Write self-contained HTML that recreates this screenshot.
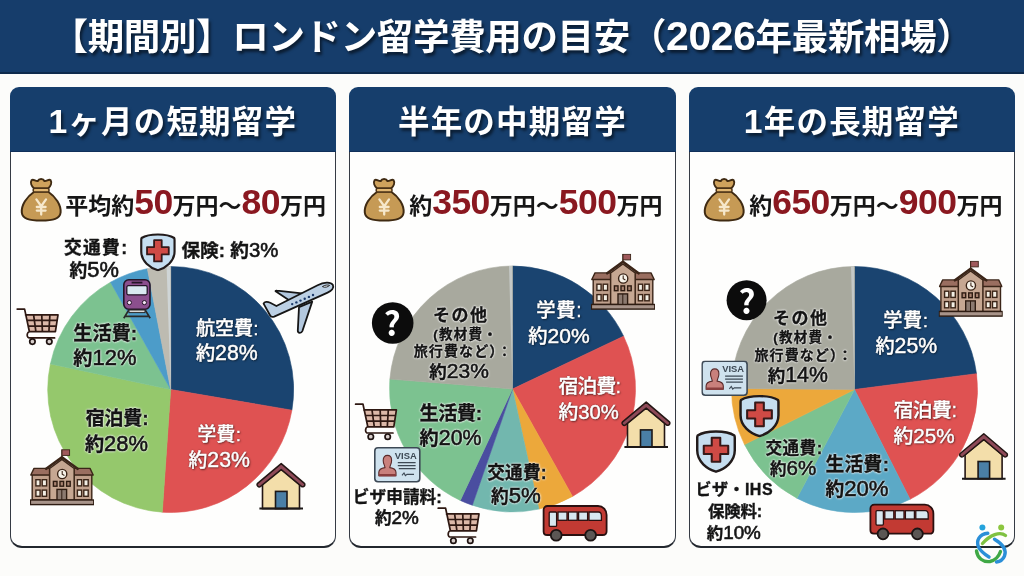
<!DOCTYPE html>
<html lang="ja"><head><meta charset="utf-8"><title>【期間別】ロンドン留学費用の目安（2026年最新相場）</title>
<style>
*{margin:0;padding:0;box-sizing:border-box}
html,body{width:1024px;height:576px;overflow:hidden}
body{position:relative;background:#fcfcfa;font-family:"Liberation Sans","Noto Sans CJK JP",sans-serif;font-weight:700;color:#161616}
.hdr{position:absolute;left:0;top:0;width:1024px;height:74px;background:#163d6b;border-bottom:2px solid #0e2a4c}
.ttl{position:absolute;left:0;top:18px;width:1024px;text-align:center;font-size:36.5px;line-height:40px;letter-spacing:-0.35px;color:#fff;text-shadow:2px 3px 3px rgba(0,0,0,.55)}
.card{position:absolute;top:87px;width:326.6px;height:461px}
.card .ch{position:absolute;left:0;top:0;right:0;height:65px;background:#163e6c;border-radius:9px 9px 0 0;border-bottom:1.5px solid #10305a}
.card .cb{position:absolute;left:0;top:65px;right:0;bottom:0;background:#fefefd;border-style:solid;border-width:0 1.5px 2.2px 1.5px;border-color:#353b44 #353b44 #22272e #353b44;border-radius:0 0 12px 12px}
.ct{position:absolute;left:0;right:0;top:17px;text-align:center;font-size:31.5px;letter-spacing:1.2px;line-height:36px;color:#fff;text-shadow:2px 3px 3px rgba(0,0,0,.55)}
.dg{font-size:1.12em;line-height:0}
.d1{font-size:1.07em;line-height:0}
.n{font-weight:400}
.k .n{-webkit-text-stroke:0.6px #141414}
.w .n{-webkit-text-stroke:0.45px #fff}
svg.ov{position:absolute;left:0;top:0}
.t{position:absolute;white-space:nowrap;line-height:1}
.pr{position:absolute;white-space:nowrap;font-size:23px;line-height:1;color:#161616}
.pr b{font-size:35.5px;letter-spacing:-0.55px;color:#8a1820}
.k{color:#141414;-webkit-text-stroke:0.35px #141414;text-shadow:0 0 2px #fff,0 0 2px #fff,0 0 3px rgba(255,255,255,.8)}
.w{color:#fff;font-weight:500;-webkit-text-stroke:0.35px #fff;text-shadow:0 0 1.5px rgba(0,0,0,.7),1px 1px 2px rgba(0,0,0,.5)}
</style></head><body>
<div class="hdr"></div>
<div class="ttl">【期間別】ロンドン留学費用の目安（<span class="dg">2026</span>年最新相場）</div>
<div class="card" style="left:9.5px"><div class="cb"></div><div class="ch"></div><div class="ct"><span class="d1">1</span>ヶ月の短期留学</div></div>
<div class="card" style="left:349.1px"><div class="cb"></div><div class="ch"></div><div class="ct">半年の中期留学</div></div>
<div class="card" style="left:688.6px"><div class="cb"></div><div class="ch"></div><div class="ct"><span class="d1">1</span>年の長期留学</div></div>
<svg class="ov" width="1024" height="576" viewBox="0 0 1024 576">
<defs>
<symbol id="bag" viewBox="0 0 48 52">
<path d="M16.5 19.5C8.5 25 3.2 33 3.8 40.5C4.4 46.8 11 48.6 23.2 48.6C35.4 48.6 42 46.8 42.6 40.5C43.2 33 37.9 25 29.9 19.5Z" fill="#c69a55" stroke="#3f2a12" stroke-width="2"/>
<path d="M16.2 16.6C13.6 14.2 12 10.6 13.6 8.2C15.4 6.6 17.6 9.6 19.8 9C21 6.2 25.2 6.2 26.4 9C28.6 9.6 30.8 6.6 32.6 8.2C34.2 10.6 32.6 14.2 30 16.6Z" fill="#cfa25c" stroke="#3f2a12" stroke-width="2"/>
<rect x="15.2" y="16.2" width="15.8" height="3.8" rx="1.6" fill="#e2b874" stroke="#4a3116" stroke-width="1.5"/>
<path d="M18.4 27.4L23.2 34.2L28 27.4M23.2 34.2V42.6M18.8 35H27.6M18.8 38.6H27.6" fill="none" stroke="#f6e8cc" stroke-width="2.3" stroke-linecap="round"/>
</symbol>
<symbol id="shield" viewBox="0 0 100 108" preserveAspectRatio="none">
<path d="M50 4C30 4 14 8 5 14C4 16 4 18 4 20V52C4 80 28 98 50 105C72 98 96 80 96 52V20C96 18 96 16 95 14C86 8 70 4 50 4Z" fill="#c6def0" stroke="#221b1b" stroke-width="6" stroke-linejoin="round"/>
<path d="M39.5 20H60.5V39.5H80V60.5H60.5V80H39.5V60.5H20V39.5H39.5Z" fill="#cf4a45" stroke="#361818" stroke-width="5" stroke-linejoin="round"/>
</symbol>
<symbol id="cart" viewBox="0 0 46 40">
<path d="M10.5 7.8H43L40.4 24.7H14.4Z" fill="#dcb8a8"/>
<path d="M2.2 2.1H9.6L14.4 24.7M10.5 7.8H43L40.4 24.7H14.4M12.4 13.4H41.9M13.7 19.1H41.1M18.6 7.8L20.9 24.7M26.75 7.8L27.4 24.7M34.9 7.8L33.9 24.7M14.4 24.7C11.6 25.5 11.2 30.9 14.6 30.9H39.6" fill="none" stroke="#2e1812" stroke-width="1.7" stroke-linejoin="round" stroke-linecap="round"/>
<circle cx="17.4" cy="34.6" r="2.7" fill="#d8cfcc" stroke="#1e1210" stroke-width="1.7"/>
<circle cx="34.3" cy="34.6" r="2.7" fill="#d8cfcc" stroke="#1e1210" stroke-width="1.7"/>
</symbol>
<symbol id="school" viewBox="0 0 64 57">
<path d="M31.9 9V0.6" stroke="#3b2518" stroke-width="1.2"/>
<rect x="32" y="0.8" width="7.6" height="5.6" fill="#a05a5c" stroke="#3b2518" stroke-width="0.9"/>
<path d="M2.2 25.5H61.8V51H2.2Z" fill="#c0a08c" stroke="#3b2518" stroke-width="1.4"/>
<path d="M0.8 26L4 19.4H60L63.2 26Z" fill="#9a6e60" stroke="#3b2518" stroke-width="1.4" stroke-linejoin="round"/>
<path d="M19.6 51V19.5L31.9 10.4L44.2 19.5V51Z" fill="#c6a792" stroke="#3b2518" stroke-width="1.5" stroke-linejoin="round"/>
<path d="M16.2 19.8L31.9 8.2L47.6 19.8" fill="none" stroke="#3b2518" stroke-width="2.6" stroke-linejoin="round" stroke-linecap="round"/>
<circle cx="32.2" cy="25" r="4.6" fill="#f7f3ea" stroke="#3b2518" stroke-width="1.4"/>
<path d="M32.2 22V25.2L34.4 26.4" fill="none" stroke="#3b2518" stroke-width="1.1"/>
<g fill="#f2eee4" stroke="#3b2518" stroke-width="1.4">
<rect x="5.9" y="30.7" width="4.2" height="6.2"/><rect x="12.2" y="30.7" width="4.4" height="6.2"/>
<rect x="5.9" y="41.1" width="4.2" height="6.2"/><rect x="12.2" y="41.1" width="4.4" height="6.2"/>
<rect x="47.4" y="30.7" width="4.2" height="6.2"/><rect x="53.8" y="30.7" width="4.4" height="6.2"/>
<rect x="47.4" y="41.1" width="4.2" height="6.2"/><rect x="53.8" y="41.1" width="4.4" height="6.2"/>
</g>
<g fill="#a88270" stroke="#2e1c12" stroke-width="1.4">
<rect x="23.4" y="32.4" width="3.6" height="4.8"/><rect x="30" y="32.4" width="3.6" height="4.8"/><rect x="36.6" y="32.4" width="3.6" height="4.8"/>
</g>
<rect x="27" y="40.4" width="9.6" height="11" fill="#8c7a70" stroke="#2e1c12" stroke-width="1.4"/>
<path d="M31.8 40.4V51.4" stroke="#2e1c12" stroke-width="1"/>
<rect x="0.4" y="51" width="63.4" height="4.6" fill="#a8948a" stroke="#2e1c12" stroke-width="1.4"/>
</symbol>
<symbol id="house" viewBox="0 0 50 49">
<path d="M6.5 22.5L25.2 6.8L43.5 22.5V46.6H6.5Z" fill="#f3deaa" stroke="#241614" stroke-width="1.6"/>
<rect x="19.5" y="29.4" width="11.5" height="17.2" fill="#4a7fa6" stroke="#1c1818" stroke-width="1.6"/>
<path d="M1.6 21.4L25.2 1.6L48.4 21.4C49.2 22.2 49 23.8 47.6 24.6C46.8 25 46 24.9 45.4 24.4L25.2 7.6L4.6 24.4C3.8 25 2.6 25 1.8 24.2C0.8 23.4 0.8 22.2 1.6 21.4Z" fill="#8e4a58" stroke="#241614" stroke-width="1.5" stroke-linejoin="round"/>
<path d="M3.4 46.6H47" stroke="#1c1818" stroke-width="2"/>
</symbol>
<symbol id="bus" viewBox="0 0 67 40">
<path d="M5.6 2H56C61 2 64.6 6 64.6 11V27.2C64.6 29.6 63 31 60.6 31H5.2C3 31 1.6 29.6 1.6 27.4V6C1.6 3.6 3.2 2 5.6 2Z" fill="#c23a33" stroke="#2a1010" stroke-width="1.8"/>
<g fill="#d8e7f0" stroke="#2a1010" stroke-width="1.3">
<rect x="7.2" y="8" width="7.4" height="14.4" rx="1"/>
<rect x="16" y="8" width="9" height="8.3"/><rect x="26.4" y="8" width="8.8" height="8.3"/><rect x="36.6" y="8" width="9" height="8.3"/>
<path d="M47 8H56.5C58.5 8 59.4 10 59.4 12V16.3H47Z"/>
</g>
<circle cx="14.2" cy="31.2" r="5.4" fill="#5b5654" stroke="#1c1414" stroke-width="1.8"/>
<circle cx="48.6" cy="31.2" r="5.4" fill="#5b5654" stroke="#1c1414" stroke-width="1.8"/>
</symbol>
<symbol id="visa" viewBox="0 0 47 36">
<rect x="0.8" y="0.8" width="45" height="33.9" rx="3.2" fill="#cfe2ee" stroke="#3d4955" stroke-width="1.6"/>
<text x="31.8" y="11.8" text-anchor="middle" font-family="Liberation Sans, sans-serif" font-size="9.4" font-weight="700" fill="#3d4955">VISA</text>
<path d="M23.8 15.7H41.6M23.8 18.6H41.6M24.8 21.6H41.6" stroke="#3d4955" stroke-width="1.3"/>
<path d="M28 28.4L30 26L31.4 28.6L33 27.4H40" fill="none" stroke="#3d4955" stroke-width="1.1"/>
<path d="M9.2 13.4C9.2 10.2 11 8.4 13.4 8.4C15.8 8.4 17.6 10.2 17.6 13.4C17.6 16.6 16 18.4 15.8 20.6C19.6 21.2 22 22.6 22 25.4V28.8H4.8V25.4C4.8 22.6 7.2 21.2 11 20.6C10.8 18.4 9.2 16.6 9.2 13.4Z" fill="#c9807c" stroke="#5a2a2a" stroke-width="1.1"/>
<rect x="5" y="27" width="16.8" height="2.4" fill="#8a3e3e"/>
</symbol>
<symbol id="train" viewBox="0 0 28 40">
<rect x="0.8" y="0.8" width="26.2" height="29.4" rx="5" fill="#8b4f8e" stroke="#241628" stroke-width="1.6"/>
<path d="M8.6 3.6H19.4" stroke="#241628" stroke-width="1.8"/>
<rect x="3.8" y="6.7" width="20.4" height="9.1" rx="1.5" fill="#d9e9f1" stroke="#241628" stroke-width="1.3"/>
<circle cx="6.4" cy="23.6" r="2.1" fill="#f4e4f4" stroke="#241628" stroke-width="1"/>
<circle cx="21.4" cy="23.6" r="2.1" fill="#f4e4f4" stroke="#241628" stroke-width="1"/>
<path d="M6 30.6L0.8 39.2M22 30.6L27.2 39.2M2.4 37.4H25.6" stroke="#2a2a2a" stroke-width="1.7"/>
<rect x="6" y="31" width="16" height="2.6" fill="#d8d8d8" stroke="#2a2a2a" stroke-width="1"/>
</symbol>
<symbol id="plane" viewBox="260 280 76 56">
<path d="M276 291.6C275 291 275.6 290.4 277 290.6L301.8 293.4L290.2 301Z" fill="#b3c8de" stroke="#161616" stroke-width="1.8" stroke-linejoin="round"/>
<path d="M263.6 303.6C264.4 301.6 267.4 301.4 270.2 302.8L276.4 306L317.6 285.2C323.6 282.2 330.6 281.6 332.8 284.8C334.6 288 331.4 290.8 327.6 292.6L274.2 316.6C272 317.4 270.6 316.6 270 315.2Z" fill="#bcd0e4" stroke="#161616" stroke-width="1.8" stroke-linejoin="round"/>
<path d="M299 307.2L312.2 301.6L302.4 331C301.4 333.4 297.8 333.4 297.8 330.8Z" fill="#b3c8de" stroke="#161616" stroke-width="1.8" stroke-linejoin="round"/>
<path d="M322.4 286.6C324.6 285 327.8 284.6 329.6 285.4C327.8 287 325 288 322.4 286.6Z" fill="#e8f0f8" stroke="#161616" stroke-width="0.9"/>
<g fill="#1c3a6a"><circle cx="292.2" cy="304.1" r="1.2"/><circle cx="296.4" cy="302.4" r="1.2"/><circle cx="300.5" cy="300.6" r="1.2"/><circle cx="304.7" cy="298.8" r="1.2"/><circle cx="308.9" cy="296.9" r="1.2"/><circle cx="313" cy="295" r="1.2"/></g>
</symbol>
</defs>
<path d="M170.7 389.5L170.7 266.5A123 123 0 0 1 291.9 410.2Z" fill="#1a4470" stroke="#1a4470" stroke-width="0.6" stroke-linejoin="round"/>
<path d="M170.7 389.5L291.9 410.2A123 123 0 0 1 162.3 512.2Z" fill="#df5252" stroke="#df5252" stroke-width="0.6" stroke-linejoin="round"/>
<path d="M170.7 389.5L162.3 512.2A123 123 0 0 1 50.4 363.9Z" fill="#95c86c" stroke="#95c86c" stroke-width="0.6" stroke-linejoin="round"/>
<path d="M170.7 389.5L50.4 363.9A123 123 0 0 1 110.5 282.2Z" fill="#7cc290" stroke="#7cc290" stroke-width="0.6" stroke-linejoin="round"/>
<path d="M170.7 389.5L110.5 282.2A123 123 0 0 1 147.4 268.7Z" fill="#4c9cc9" stroke="#4c9cc9" stroke-width="0.6" stroke-linejoin="round"/>
<path d="M170.7 389.5L147.4 268.7A123 123 0 0 1 170.7 266.5Z" fill="#bdbbb1" stroke="#bdbbb1" stroke-width="0.6" stroke-linejoin="round"/>
<path d="M170.7 389.5L166.6 266.6L170.4 266.5Z" fill="#cfd5d6"/>
<path d="M512.5 389.0L512.5 266.0A123 123 0 0 1 623.6 336.2Z" fill="#1a4470" stroke="#1a4470" stroke-width="0.6" stroke-linejoin="round"/>
<path d="M512.5 389.0L623.6 336.2A123 123 0 0 1 572.5 496.4Z" fill="#df5252" stroke="#df5252" stroke-width="0.6" stroke-linejoin="round"/>
<path d="M512.5 389.0L572.5 496.4A123 123 0 0 1 538.9 509.1Z" fill="#eca83b" stroke="#eca83b" stroke-width="0.6" stroke-linejoin="round"/>
<path d="M512.5 389.0L538.9 509.1A123 123 0 0 1 472.3 505.2Z" fill="#72b7ae" stroke="#72b7ae" stroke-width="0.6" stroke-linejoin="round"/>
<path d="M512.5 389.0L472.3 505.2A123 123 0 0 1 460.3 500.4Z" fill="#4a4ea0" stroke="#4a4ea0" stroke-width="0.6" stroke-linejoin="round"/>
<path d="M512.5 389.0L460.3 500.4A123 123 0 0 1 389.9 379.1Z" fill="#7cc290" stroke="#7cc290" stroke-width="0.6" stroke-linejoin="round"/>
<path d="M512.5 389.0L389.9 379.1A123 123 0 0 1 512.5 266.0Z" fill="#a8a99e" stroke="#a8a99e" stroke-width="0.6" stroke-linejoin="round"/>
<path d="M854.5 389.5L854.5 266.5A123 123 0 0 1 976.5 373.7Z" fill="#1a4470" stroke="#1a4470" stroke-width="0.6" stroke-linejoin="round"/>
<path d="M854.5 389.5L976.5 373.7A123 123 0 0 1 910.0 499.3Z" fill="#df5252" stroke="#df5252" stroke-width="0.6" stroke-linejoin="round"/>
<path d="M854.5 389.5L910.0 499.3A123 123 0 0 1 796.9 498.2Z" fill="#5ca9c6" stroke="#5ca9c6" stroke-width="0.6" stroke-linejoin="round"/>
<path d="M854.5 389.5L796.9 498.2A123 123 0 0 1 744.5 444.6Z" fill="#7cc290" stroke="#7cc290" stroke-width="0.6" stroke-linejoin="round"/>
<path d="M854.5 389.5L744.5 444.6A123 123 0 0 1 731.5 388.4Z" fill="#eca83b" stroke="#eca83b" stroke-width="0.6" stroke-linejoin="round"/>
<path d="M854.5 389.5L731.5 388.4A123 123 0 0 1 854.5 266.5Z" fill="#a8a99e" stroke="#a8a99e" stroke-width="0.6" stroke-linejoin="round"/>
<path d="M512.5 389L509 266.1L512.2 266Z" fill="#c4c8c6"/>
<path d="M854.5 389.5L851 266.6L854.2 266.5Z" fill="#c4c8c6"/>
<use href="#bag" x="18" y="172" width="48" height="52"/>
<use href="#bag" x="361" y="172" width="48" height="52"/>
<use href="#bag" x="701" y="172" width="48" height="52"/>
<use href="#train" x="123" y="279" width="28" height="40"/>
<use href="#plane" x="260" y="280" width="76" height="56"/>
<use href="#cart" x="15" y="307" width="46" height="40"/>
<use href="#cart" x="353.4" y="402.1" width="46" height="40"/>
<use href="#cart" x="436" y="506.1" width="46" height="40"/>
<use href="#school" x="30" y="449" width="64" height="57"/>
<use href="#school" x="591" y="253.5" width="64" height="57"/>
<use href="#school" x="938.7" y="260.5" width="64" height="57"/>
<use href="#house" x="256" y="462" width="50" height="49"/>
<use href="#house" x="621" y="400.5" width="50" height="49"/>
<use href="#house" x="958.6" y="432.1" width="50" height="49"/>
<use href="#bus" x="542" y="504" width="67" height="40"/>
<use href="#bus" x="868.8" y="502.7" width="67" height="40"/>
<use href="#visa" x="374" y="447" width="47" height="36"/>
<use href="#visa" x="701.3" y="360.5" width="47" height="36"/>
<use href="#shield" x="139.8" y="233.05" width="36.2" height="38.25"/>
<use href="#shield" x="738.9" y="394.5" width="41.2" height="42.9"/>
<use href="#shield" x="695.6" y="429.9" width="40.8" height="43"/>
<circle cx="392.7" cy="323" r="20.8" fill="#0c0c0c"/>
<circle cx="746.6" cy="300.2" r="20" fill="#0c0c0c"/>
<text x="392.3" y="335.8" text-anchor="middle" font-family="Noto Sans CJK JP, sans-serif" font-weight="700" font-size="33" fill="#fff">?</text>
<text x="746.9" y="314.3" text-anchor="middle" font-family="Noto Sans CJK JP, sans-serif" font-weight="700" font-size="33" fill="#fff">?</text>
<g fill="none" stroke-linecap="round">
<path d="M987.8 533.3C979 534 976 541 978.5 547C980.5 551 985 554.5 989 557" stroke="#2b8fd8" stroke-width="3.4"/>
<path d="M1005.5 535.5C1000 531 990 535 982.5 543.5" stroke="#7fc141" stroke-width="3.4"/>
<path d="M994.5 539.2C1001 543 1007 549 1004.5 556C1003 559.5 1000 561.5 996.5 562" stroke="#2b8fd8" stroke-width="3.4"/>
<path d="M976.5 551C977.5 558 983 562.5 990 561.5C995 560.5 999 556 1000.5 551.5" stroke="#3fa845" stroke-width="3.4"/>
</g>
<circle cx="982.4" cy="527.5" r="3" fill="#25a3dc"/>
<circle cx="1001.2" cy="527.5" r="3" fill="#8cc63f"/>

</svg>
<div class="pr" style="left:65.2px;top:185px">平均約<b>50</b>万円～<b>80</b>万円</div>
<div class="pr" style="left:409.2px;top:185px">約<b>350</b>万円～<b>500</b>万円</div>
<div class="pr" style="left:749.2px;top:185px">約<b>650</b>万円～<b>900</b>万円</div>
<div class="t k" style="left:63.9px;top:239.8px;font-size:17.7px;letter-spacing:1.4px">交通費:</div>
<div class="t k" style="left:69.6px;top:259.25px;font-size:17.7px;letter-spacing:0.0px">約<span class="n" style="font-size:1.236em">5%</span></div>
<div class="t k" style="left:181.4px;top:239.8px;font-size:18.7px;letter-spacing:0.0px">保険: 約<span class="n" style="font-size:1.089em">3%</span></div>
<div class="t w" style="left:195.9px;top:318.5px;font-size:19.19px;letter-spacing:-0.1px">航空費:</div>
<div class="t w" style="left:195.9px;top:343.0px;font-size:19.19px;letter-spacing:0.0px">約<span class="n" style="font-size:1.11em">28%</span></div>
<div class="t k" style="left:73.3px;top:323.8px;font-size:19.19px;letter-spacing:0.0px">生活費:</div>
<div class="t k" style="left:73.3px;top:347.3px;font-size:19.19px;letter-spacing:0.0px">約<span class="n" style="font-size:1.144em">12%</span></div>
<div class="t k" style="left:85.4px;top:409.0px;font-size:19.19px;letter-spacing:-0.27px">宿泊費:</div>
<div class="t k" style="left:84.9px;top:432.5px;font-size:19.19px;letter-spacing:0.0px">約<span class="n" style="font-size:1.144em">28%</span></div>
<div class="t w" style="left:197.4px;top:426.3px;font-size:18.78px;letter-spacing:0.4px">学費:</div>
<div class="t w" style="left:188.5px;top:449.9px;font-size:18.78px;letter-spacing:0.0px">約<span class="n" style="font-size:1.135em">23%</span></div>
<div class="t k" style="left:433.0px;top:307.2px;font-size:17.0px;letter-spacing:1.5px">その他</div>
<div class="t k" style="left:433.2px;top:328.25px;font-size:13.5px;letter-spacing:1.29px">(教材費・</div>
<div class="t k" style="left:413.7px;top:343.7px;font-size:14.0px;letter-spacing:1.13px">旅行費など）：</div>
<div class="t k" style="left:429.3px;top:360.2px;font-size:17.5px;letter-spacing:0.0px">約<span class="n" style="font-size:1.201em">23%</span></div>
<div class="t w" style="left:536.2px;top:301.4px;font-size:19.29px;letter-spacing:0.8px">学費:</div>
<div class="t w" style="left:528.3px;top:325.0px;font-size:19.29px;letter-spacing:0.0px">約<span class="n" style="font-size:1.092em">20%</span></div>
<div class="t w" style="left:558.5px;top:377.4px;font-size:19.81px;letter-spacing:-0.77px">宿泊費:</div>
<div class="t w" style="left:558.5px;top:402.0px;font-size:19.81px;letter-spacing:0.0px">約<span class="n" style="font-size:1.024em">30%</span></div>
<div class="t k" style="left:419.6px;top:403.8px;font-size:19.19px;letter-spacing:-0.43px">生活費:</div>
<div class="t k" style="left:419.6px;top:427.8px;font-size:19.19px;letter-spacing:0.0px">約<span class="n" style="font-size:1.11em">20%</span></div>
<div class="t k" style="left:487.3px;top:465.3px;font-size:17.7px;letter-spacing:0.13px">交通費:</div>
<div class="t k" style="left:491.0px;top:485.25px;font-size:17.7px;letter-spacing:0.0px">約<span class="n" style="font-size:1.256em">5%</span></div>
<div class="t k" style="left:352.7px;top:490.0px;font-size:16.6px;letter-spacing:0.14px">ビザ申請料:</div>
<div class="t k" style="left:375.0px;top:509.3px;font-size:16.6px;letter-spacing:0.0px">約<span class="n" style="font-size:1.139em">2%</span></div>
<div class="t k" style="left:773.0px;top:309.5px;font-size:17.0px;letter-spacing:1.5px">その他</div>
<div class="t k" style="left:773.2px;top:331.4px;font-size:13.5px;letter-spacing:1.29px">(教材費・</div>
<div class="t k" style="left:754.5px;top:347.6px;font-size:14.0px;letter-spacing:1.08px">旅行費など）：</div>
<div class="t k" style="left:767.75px;top:365.0px;font-size:17.5px;letter-spacing:0.0px">約<span class="n" style="font-size:1.217em">14%</span></div>
<div class="t w" style="left:883.2px;top:310.9px;font-size:19.19px;letter-spacing:0.55px">学費:</div>
<div class="t w" style="left:875.4px;top:336.0px;font-size:19.19px;letter-spacing:0.0px">約<span class="n" style="font-size:1.11em">25%</span></div>
<div class="t w" style="left:893.5px;top:401.0px;font-size:19.81px;letter-spacing:-0.5px">宿泊費:</div>
<div class="t w" style="left:893.5px;top:426.1px;font-size:19.81px;letter-spacing:0.0px">約<span class="n" style="font-size:1.044em">25%</span></div>
<div class="t k" style="left:765.4px;top:440.5px;font-size:16.57px;letter-spacing:0.53px">交通費:</div>
<div class="t k" style="left:770.0px;top:458.4px;font-size:16.57px;letter-spacing:0.0px">約<span class="n" style="font-size:1.241em">6%</span></div>
<div class="t k" style="left:825.4px;top:456.3px;font-size:18.78px;letter-spacing:0.33px">生活費:</div>
<div class="t k" style="left:825.4px;top:478.3px;font-size:18.78px;letter-spacing:0.0px">約<span class="n" style="font-size:1.183em">20%</span></div>
<div class="t k" style="left:695.4px;top:482.1px;font-size:16.0px;letter-spacing:0.5px">ビザ・IHS</div>
<div class="t k" style="left:708.0px;top:502.6px;font-size:16.47px;letter-spacing:-0.23px">保険料:</div>
<div class="t k" style="left:706.7px;top:523.9px;font-size:16.47px;letter-spacing:0.0px">約<span class="n" style="font-size:1.146em">10%</span></div>
</body></html>
